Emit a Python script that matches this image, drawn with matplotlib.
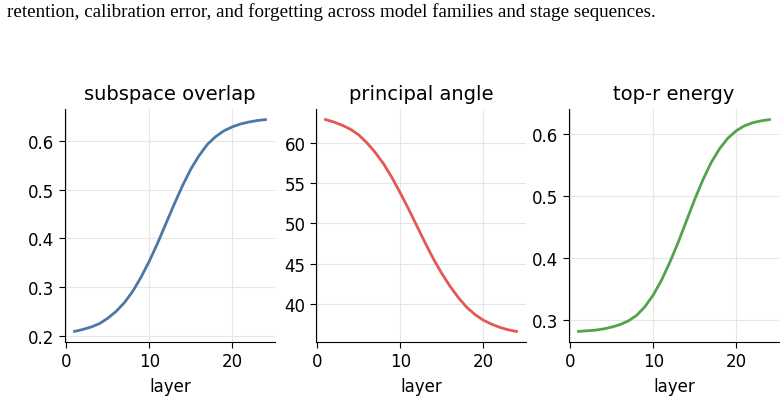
import numpy as np
import matplotlib
matplotlib.use("Agg")
import matplotlib.pyplot as plt

# data: per-layer curves
layers = list(range(1, 25))
overlap = [0.209, 0.213, 0.218, 0.225, 0.236, 0.250, 0.268, 0.291, 0.320, 0.353,
           0.390, 0.430, 0.470, 0.508, 0.542, 0.570, 0.593, 0.609, 0.621, 0.629,
           0.635, 0.639, 0.642, 0.644]
angle = [62.9, 62.6, 62.2, 61.7, 61.0, 60.0, 58.8, 57.4, 55.7, 53.8,
         51.8, 49.7, 47.6, 45.6, 43.8, 42.2, 40.8, 39.6, 38.7, 38.0,
         37.5, 37.1, 36.8, 36.6]
energy = [0.281, 0.282, 0.283, 0.285, 0.288, 0.292, 0.298, 0.307, 0.321, 0.340,
          0.364, 0.393, 0.425, 0.460, 0.495, 0.527, 0.555, 0.577, 0.594, 0.606,
          0.614, 0.619, 0.622, 0.624]

titles = ["subspace overlap", "principal angle", "top-r energy"]
series = [overlap, angle, energy]
colors = ["#4C78A8", "#E45756", "#54A24B"]
yticks = [[0.2, 0.3, 0.4, 0.5, 0.6], [40, 45, 50, 55, 60], [0.3, 0.4, 0.5, 0.6]]

fig = plt.figure(figsize=(7.84, 4.02), dpi=100)

# caption fragment from the page above the figure
fig.text(7 / 784, 1 - 12 / 402, "retention, calibration error, and forgetting across model "
         "families and stage sequences.", family="Liberation Serif", fontsize=13.7,
         ha="left", va="center")

lefts = [65, 316, 569]
for left, title, ys, c, yt in zip(lefts, titles, series, colors, yticks):
    ax = fig.add_axes([left / 784, 1 - 343 / 402, 210 / 784, 233 / 402])
    ax.plot(layers, ys, color=c, lw=2)
    ax.set_title(title, fontsize=14, pad=7)
    ax.set_xlabel("layer", fontsize=12, labelpad=5)
    ax.set_xticks([0, 10, 20])
    ax.set_yticks(yt)
    ax.tick_params(labelsize=12, length=4)
    ax.grid(True, color="#e6e6e6", lw=0.8)
    ax.set_axisbelow(True)
    for s in ["top", "right"]:
        ax.spines[s].set_visible(False)

fig.savefig("out.png", dpi=100)
